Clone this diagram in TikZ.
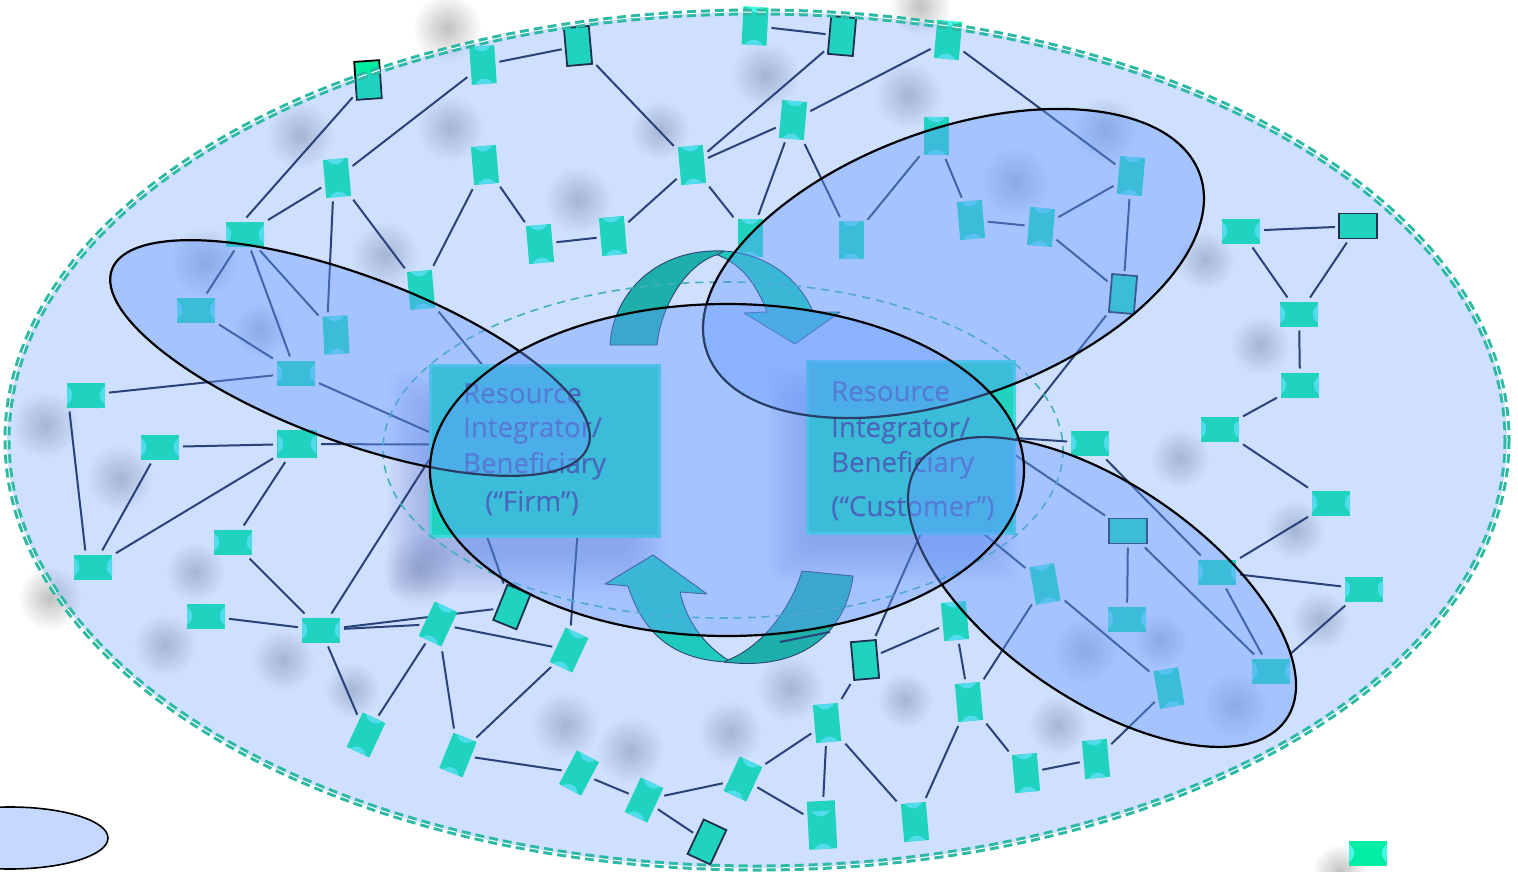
\documentclass[tikz,border=0pt]{standalone}
\usepackage{fontspec}
\setmainfont{Open Sans}
\usetikzlibrary{fadings}
\definecolor{nodegreen}{RGB}{0,237,164}
\definecolor{capgreen}{RGB}{70,250,225}
\definecolor{linknavy}{RGB}{14,28,62}
\definecolor{overlayblue}{RGB}{103,155,255}
\definecolor{dashteal}{RGB}{45,185,165}
\definecolor{innerteal}{RGB}{65,175,190}
\definecolor{arrowdark}{RGB}{0,185,132}
\definecolor{arrowlight}{RGB}{0,224,158}
\definecolor{textnavy}{RGB}{30,30,95}
\definecolor{legendblue}{RGB}{197,216,255}
\tikzfading[name=fuzzy, inner color=transparent!58, outer color=transparent!100]
\pgfdeclarelayer{shade}\pgfdeclarelayer{links}\pgfdeclarelayer{top}
\pgfsetlayers{shade,links,main,top}
\tikzset{
  x=1pt,y=-1pt,
  res/.style={fill=nodegreen,minimum width=25pt,minimum height=38pt,inner sep=0pt,outer sep=4pt},
  resd/.style={fill=nodegreen,draw=black,line width=1.8pt,minimum width=25pt,minimum height=38pt,inner sep=0pt,outer sep=4pt},
  link/.style={draw=linknavy,line width=2pt},
  box/.style={fill=nodegreen,draw=capgreen!70!nodegreen,line width=3pt,inner sep=0pt,outer sep=0pt},
  lbl/.style={font=\fontsize{27.6}{30}\selectfont\addfontfeature{FakeBold=0.2},text=textnavy,inner sep=0pt,anchor=base west},
  over/.style={fill=overlayblue,fill opacity=.4,draw=black,line width=2.2pt},
  arrowpart/.style={draw=linknavy,line width=.9pt,line join=round},
}
\newcommand{\blurblob}[3]{\fill[gray!85!black,path fading=fuzzy] (#1,#2) circle (#3);}
\newcommand{\blurrect}[4]{\foreach \i in {0,...,13}{\fill[gray!70!blue,opacity=.03,rounded corners=12pt] ({#1+\i*3},{#2+\i*3}) rectangle ({#3-\i*3},{#4-\i*3});}}
\newcommand{\caps}[3]{\begin{scope}[shift={(#1,#2)},rotate=#3]
  \fill[capgreen] (-9,-19) .. controls (-4,-12) and (4,-12) .. (9,-19) -- cycle;
  \fill[capgreen] (-9,19) .. controls (-4,12) and (4,12) .. (9,19) -- cycle;
\end{scope}}
\begin{document}
\begin{tikzpicture}
\useasboundingbox (0,0) rectangle (1518,872);
\begin{pgfonlayer}{shade}
\fill[white] (0,0) rectangle (1518,872);
\foreach \x/\y/\r in {447/28/34,920/6/30,300/135/34,450/128/34,765/75/34,908/95/34,660/130/30,578/200/34,1015/182/36,1105/130/34,205/262/36,385/255/34,1205/260/30,1260/345/30,1180/458/30,45/425/34,120/478/34,195/572/30,50/598/32,165/645/32,283/660/32,352/690/28,565/725/34,630/750/34,730/732/32,790/688/34,905/700/28,1058/725/30,1085/650/34,1235/705/34,1295/530/30,1320/620/30,420/570/38,1340/872/28,260/330/28,1160/640/28}{\blurblob{\x}{\y}{\r}}
\blurrect{388}{370}{668}{595}
\blurrect{766}{366}{1020}{585}
\end{pgfonlayer}
% resource nodes
\foreach \n/\x/\y/\r in {a2/483/65/4,a4/755/26/-3,a6/948/40/-5,a7/793/120/-5,a8/692/165/5,a9/936/136/0,a10/1131/176/-5,a11/337/178/5,a12/485/165/5,a13/540/244/5,a14/613/236/5,a15/750/238/0,a16/851/240/0,a17/971/220/5,a18/1041/227/-5,a29/336/335/3,a30/421/290/5,a40/438/624/-25,a41/569/650/-25,a42/366/735/-25,a43/458/755/-22,a44/579/773/-28,a45/644/800/-25,a46/743/779/-25,a48/827/723/5,a50/915/822/5,a52/955/621/5,a53/969/702/5,a54/1026/773/5,a55/1096/759/5,a56/1045/584/10,a60/1169/688/10,
a20/1241/231/90,a22/1299/314/90,a23/1300/385/90,a24/1220/429/90,a25/1331/503/90,a26/1090/443/90,a27/245/234/90,a28/196/310/90,a31/296/373/90,a32/86/395/90,a33/160/447/90,a35/233/542/90,a36/93/567/90,a37/206/616/90,a38/321/630/90,a58/1127/619/90,a59/1217/572/90,a61/1271/671/90,a62/1364/589/90,a63/1368/853/90}
  {\node[res,rotate=\r] (\n) at (\x,\y) {};\caps{\x}{\y}{\r}}
\node[res,rotate=90,minimum width=28pt,minimum height=40pt] (a34) at (297,444) {};
\caps{297}{444}{90}
\node[res,rotate=3,minimum width=28pt,minimum height=48pt] (a49) at (822,825) {};
\caps{822}{830}{3}
\foreach \n/\x/\y/\r in {a1/368/80/4,a3/578/46/5,a5/842/36/-5,a19/1123/294/-5,a21/1358/226/90,a39/512/607/-22,a47/707/842/-25,a51/865/660/5,a57/1128/531/90}
  {\node[resd,rotate=\r] (\n) at (\x,\y) {};}
% boxes
\node[box,minimum width=229pt,minimum height=171pt] (firm) at (544.5,450.5) {};
\node[box,minimum width=207pt,minimum height=172pt] (cust) at (910.5,447) {};
\coordinate (tickA) at (97,408);
\coordinate (tickB) at (102,395);
% labels
\node[lbl] (f1) at (463,403) {Resource};
\node[lbl] (f2) at (463,437) {Integrator/};
\node[lbl] (f3) at (463,473) {Beneficiary};
\node[lbl] (f4) at (485,511) {(“Firm”)};
\node[lbl] (c1) at (831,401) {Resource};
\node[lbl] (c2) at (831,437) {Integrator/};
\node[lbl] (c3) at (831,472) {Beneficiary};
\node[lbl] (c4) at (831,516) {(“Customer”)};
% connectors
\begin{pgfonlayer}{links}
\foreach \a/\b in {a1/a27.-5,a2/a3,a2/a11,a3/a8,a4/a5,a5/a8,a6/a7,a6/a10,a7/a8,a7/a16,a7/a15,a8/a14,a8/a15,a9/a16,a9/a17,a10/a18,a10/a19,a17/a18,a18/a19,a12/a13,a12/a30,a13/a14,a11/a27,a11.-105/a29.107,a11/a30,a27/a28,a27/a29,a27/a31,a28/a31,a30/firm.126,a31/a32,a31/firm.171,a34/firm.177,a33/a34,a32.135/a36.25,a33/a36,a34/a36,a34/a35,a35/a38,a37/a38,a38/firm.184,a38/a40,a38/a39,a40/a41,a40/a42,a40/a43,a38/a42,a41/a43,firm.236/a39,firm.-69/a41,a43/a44,a44/a45,a45/a46,a45/a47,a46/a48,a46/a49,a48/a49,a48/a50,a48/a51,a51/a52,a51/cust.-83,a52/a53,a53/a50,a53/a54,a53/a56,a54/a55,a55/a60,cust.-50/a56,a56/a60,cust.5/a26,cust.-4/a57,a26/a59,a57/a58,a57/a61,a59/a61,a59/a25,a59/a62,a61/a62,a19/cust.8,a24/a25,a24/a23,a22/a23,a20/a22,a21/a22,a20/a21,tickA/tickB}
  {\draw[link] (\a) -- (\b);}
\end{pgfonlayer}
\begin{pgfonlayer}{top}
% top arrow
\path[arrowpart,fill=arrowlight] (724,251) .. controls (768,254) and (800,280) .. (813,312) -- (840,312) -- (795,344) -- (744,313) -- (767,312) .. controls (755,280) and (738,262) .. (715,254) -- cycle;
\path[arrowpart,fill=arrowdark] (610,345) .. controls (612,300) and (650,248) .. (724,251) -- (719,254) .. controls (690,262) and (662,300) .. (657,345) -- cycle;
% bottom arrow
\path[arrowpart,fill=arrowlight] (653,555) -- (707,594) -- (680,592) .. controls (686,620) and (704,645) .. (728,660) -- (728,662) .. controls (670,660) and (642,630) .. (628,586) -- (605,584) -- cycle;
\path[arrowpart,fill=arrowdark] (802,571) -- (853,576) .. controls (846,630) and (805,672) .. (724,662) -- (728,660) .. controls (765,645) and (792,605) .. (802,571) -- cycle;
\draw[link] (780,642) -- (830,632);
% big translucent ellipse
\fill[overlayblue,fill opacity=.31] (757,440) ellipse (750 and 428);
\draw[dashteal,line width=3pt,double=white,double distance=1pt,dash pattern=on 9pt off 5pt] (757,440) ellipse (750 and 428);
% inner overlays
\draw[innerteal,line width=1.6pt,dash pattern=on 8pt off 6pt] (723,450) ellipse (340 and 168);
\path[over,rotate around={-20.4:(350,358)}] (350,358) ellipse (254 and 83);
\path[over,rotate around={20:(953.5,263.5)}] (953.5,263.5) ellipse (262 and 134);
\path[over,rotate around={-34.7:(1102,592)}] (1102,592) ellipse (224 and 107);
\path[over] (727,470) ellipse (297 and 166);
\fill[legendblue] (10,838) ellipse (98 and 31);
\draw[black,line width=1.6pt] (10,838) ellipse (98 and 31);
\end{pgfonlayer}
\end{tikzpicture}
\end{document}
